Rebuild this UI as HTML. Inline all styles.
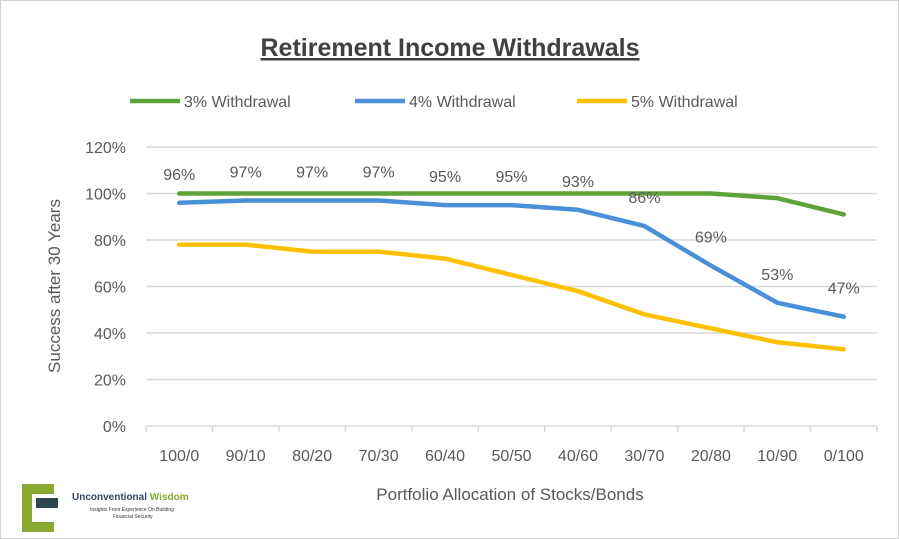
<!DOCTYPE html>
<html><head><meta charset="utf-8"><style>
body{margin:0;background:#fff;}
svg{display:block;font-family:"Liberation Sans",sans-serif;}
</style></head><body>
<svg id="c" width="899" height="539">
<rect x="0.5" y="0.5" width="898" height="538" fill="#fff" stroke="#d0d0d0"/>
<text x="450" y="56" text-anchor="middle" font-size="25" font-weight="bold" fill="#404040" text-decoration="underline">Retirement Income Withdrawals</text>
<g id="legend"></g>
<g id="grid"></g><g id="series"></g><g id="labels"></g>
<text transform="translate(60,286) rotate(-90)" text-anchor="middle" font-size="17" fill="#595959">Success after 30 Years</text>
<text x="510" y="500" text-anchor="middle" font-size="17" fill="#595959">Portfolio Allocation of Stocks/Bonds</text>
<g>
<path d="M22 484 h32 v10 h-22 v28 h22 v10 h-32 z" fill="#8aa832"/>
<path d="M36 498 h22 v10 h-22 z" fill="#2f4650"/>
<text x="72" y="500" font-size="10" font-weight="bold" fill="#34495e">Unconventional <tspan fill="#8aa832">Wisdom</tspan></text>
<text x="90" y="511" font-size="5" fill="#333">Insights From Experience On Building</text>
<text x="113" y="518" font-size="5" fill="#333">Financial Security</text>
</g>
</svg>
<script>
const categories=["100/0","90/10","80/20","70/30","60/40","50/50","40/60","30/70","20/80","10/90","0/100"];
const w3=[100,100,100,100,100,100,100,100,100,98,91];
const w4=[96,97,97,97,95,95,93,86,69,53,47];
const w5=[78,78,75,75,72,65,58,48,42,36,33];
const yTicks=[0,20,40,60,80,100,120];
const NS="http://www.w3.org/2000/svg";
const L=146,R=877,Y0=426,Y120=147;
const step=(R-L)/categories.length;
const x=i=>L+step*(i+0.5);
const y=v=>Y0-(Y0-Y120)*v/120;
function mk(t,a,p){const e=document.createElementNS(NS,t);for(const k in a)e.setAttribute(k,a[k]);(p||document.getElementById('c')).appendChild(e);return e;}
const grid=document.getElementById('grid');
yTicks.forEach(v=>{
 const l=mk('line',{x1:L,x2:R,y1:y(v),y2:y(v),stroke:'#d9d9d9','stroke-width':1.5},grid);
 
 
 const t=mk('text',{x:126,y:y(v)+6,'text-anchor':'end','font-size':16,fill:'#595959'},grid);
 t.textContent=v+'%';
 
 
});
for(let i=0;i<=categories.length;i++){
 const tk=mk('line',{x1:L+step*i,x2:L+step*i,y1:Y0,y2:Y0+6,stroke:'#d9d9d9','stroke-width':1.5},grid);
 
 
}
categories.forEach((c,i)=>{
 const t=mk('text',{x:x(i),y:461,'text-anchor':'middle','font-size':16,fill:'#595959'},grid);
 t.textContent=c;
 
 
});
const series=[[w3,'#5ea23a','3% Withdrawal',130],[w4,'#4a90d9','4% Withdrawal',355],[w5,'#ffc000','5% Withdrawal',577]];
const sg=document.getElementById('series'),lg=document.getElementById('legend');
series.forEach(([d,col,name,lx],k)=>{
 const p=mk('polyline',{points:d.map((v,i)=>x(i)+','+y(v)).join(' '),fill:'none',stroke:col,'stroke-width':4.5,'stroke-linejoin':'round','stroke-linecap':'round'},sg);
 
 
 const ll=mk('line',{x1:lx,x2:lx+50,y1:101,y2:101,stroke:col,'stroke-width':4.5},lg);
 
 
 const lt=mk('text',{x:lx+54,y:107,'font-size':16,fill:'#595959'},lg);
 lt.textContent=name;
 
 
});
const lb=document.getElementById('labels');
w4.forEach((v,i)=>{
 const t=mk('text',{x:x(i),y:y(v)-23,'text-anchor':'middle','font-size':16,fill:'#595959'},lb);
 t.textContent=v+'%';
 
 
});
</script>
</body></html>
